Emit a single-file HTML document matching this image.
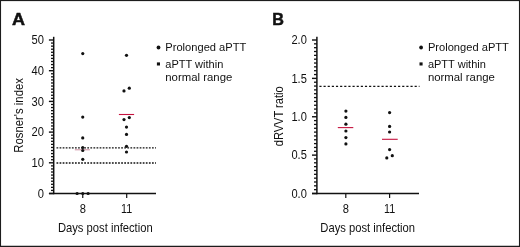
<!DOCTYPE html>
<html>
<head>
<meta charset="utf-8">
<title>Figure</title>
<style>
html, body { margin: 0; padding: 0; background: #fff; }
body { width: 520px; height: 247px; overflow: hidden; position: relative; font-family: "Liberation Sans", sans-serif; }
svg { position: absolute; left: 0; top: 0; display: block; will-change: transform; }
svg text { font-family: "Liberation Sans", sans-serif; }
</style>
</head>
<body>
<svg width="520" height="247" viewBox="0 0 520 247">
<rect x="0" y="0" width="520" height="247" fill="#fff"/>
<g fill="#1c1c1c"><rect x="0" y="0" width="520" height="1.1"/><rect x="0" y="245.75" width="520" height="1.25"/><rect x="0" y="0" width="1.05" height="247"/><rect x="518.95" y="0" width="1.05" height="247"/></g>
<g stroke="#111" fill="none">
<line x1="53.7" y1="36.8" x2="53.7" y2="194.2" stroke-width="1.5"/>
<line x1="49" y1="193.5" x2="156" y2="193.5" stroke-width="1.4"/>
<line x1="48.9" y1="193.5" x2="53.7" y2="193.5" stroke-width="1.4"/>
<line x1="51.0" y1="190.43" x2="53.7" y2="190.43" stroke-width="1.3"/>
<line x1="51.0" y1="187.36" x2="53.7" y2="187.36" stroke-width="1.3"/>
<line x1="51.0" y1="184.29" x2="53.7" y2="184.29" stroke-width="1.3"/>
<line x1="51.0" y1="181.22" x2="53.7" y2="181.22" stroke-width="1.3"/>
<line x1="51.0" y1="178.15" x2="53.7" y2="178.15" stroke-width="1.3"/>
<line x1="51.0" y1="175.08" x2="53.7" y2="175.08" stroke-width="1.3"/>
<line x1="51.0" y1="172.01" x2="53.7" y2="172.01" stroke-width="1.3"/>
<line x1="51.0" y1="168.94" x2="53.7" y2="168.94" stroke-width="1.3"/>
<line x1="51.0" y1="165.87" x2="53.7" y2="165.87" stroke-width="1.3"/>
<line x1="48.9" y1="162.8" x2="53.7" y2="162.8" stroke-width="1.4"/>
<line x1="51.0" y1="159.73" x2="53.7" y2="159.73" stroke-width="1.3"/>
<line x1="51.0" y1="156.66" x2="53.7" y2="156.66" stroke-width="1.3"/>
<line x1="51.0" y1="153.59" x2="53.7" y2="153.59" stroke-width="1.3"/>
<line x1="51.0" y1="150.52" x2="53.7" y2="150.52" stroke-width="1.3"/>
<line x1="51.0" y1="147.45" x2="53.7" y2="147.45" stroke-width="1.3"/>
<line x1="51.0" y1="144.38" x2="53.7" y2="144.38" stroke-width="1.3"/>
<line x1="51.0" y1="141.31" x2="53.7" y2="141.31" stroke-width="1.3"/>
<line x1="51.0" y1="138.24" x2="53.7" y2="138.24" stroke-width="1.3"/>
<line x1="51.0" y1="135.17" x2="53.7" y2="135.17" stroke-width="1.3"/>
<line x1="48.9" y1="132.1" x2="53.7" y2="132.1" stroke-width="1.4"/>
<line x1="51.0" y1="129.03" x2="53.7" y2="129.03" stroke-width="1.3"/>
<line x1="51.0" y1="125.96" x2="53.7" y2="125.96" stroke-width="1.3"/>
<line x1="51.0" y1="122.89" x2="53.7" y2="122.89" stroke-width="1.3"/>
<line x1="51.0" y1="119.82" x2="53.7" y2="119.82" stroke-width="1.3"/>
<line x1="51.0" y1="116.75" x2="53.7" y2="116.75" stroke-width="1.3"/>
<line x1="51.0" y1="113.68" x2="53.7" y2="113.68" stroke-width="1.3"/>
<line x1="51.0" y1="110.61" x2="53.7" y2="110.61" stroke-width="1.3"/>
<line x1="51.0" y1="107.54" x2="53.7" y2="107.54" stroke-width="1.3"/>
<line x1="51.0" y1="104.47" x2="53.7" y2="104.47" stroke-width="1.3"/>
<line x1="48.9" y1="101.4" x2="53.7" y2="101.4" stroke-width="1.4"/>
<line x1="51.0" y1="98.33" x2="53.7" y2="98.33" stroke-width="1.3"/>
<line x1="51.0" y1="95.26" x2="53.7" y2="95.26" stroke-width="1.3"/>
<line x1="51.0" y1="92.19" x2="53.7" y2="92.19" stroke-width="1.3"/>
<line x1="51.0" y1="89.12" x2="53.7" y2="89.12" stroke-width="1.3"/>
<line x1="51.0" y1="86.05" x2="53.7" y2="86.05" stroke-width="1.3"/>
<line x1="51.0" y1="82.98" x2="53.7" y2="82.98" stroke-width="1.3"/>
<line x1="51.0" y1="79.91" x2="53.7" y2="79.91" stroke-width="1.3"/>
<line x1="51.0" y1="76.84" x2="53.7" y2="76.84" stroke-width="1.3"/>
<line x1="51.0" y1="73.77" x2="53.7" y2="73.77" stroke-width="1.3"/>
<line x1="48.9" y1="70.7" x2="53.7" y2="70.7" stroke-width="1.4"/>
<line x1="51.0" y1="67.63" x2="53.7" y2="67.63" stroke-width="1.3"/>
<line x1="51.0" y1="64.56" x2="53.7" y2="64.56" stroke-width="1.3"/>
<line x1="51.0" y1="61.49" x2="53.7" y2="61.49" stroke-width="1.3"/>
<line x1="51.0" y1="58.42" x2="53.7" y2="58.42" stroke-width="1.3"/>
<line x1="51.0" y1="55.35" x2="53.7" y2="55.35" stroke-width="1.3"/>
<line x1="51.0" y1="52.28" x2="53.7" y2="52.28" stroke-width="1.3"/>
<line x1="51.0" y1="49.21" x2="53.7" y2="49.21" stroke-width="1.3"/>
<line x1="51.0" y1="46.14" x2="53.7" y2="46.14" stroke-width="1.3"/>
<line x1="51.0" y1="43.07" x2="53.7" y2="43.07" stroke-width="1.3"/>
<line x1="48.9" y1="40.0" x2="53.7" y2="40.0" stroke-width="1.4"/>
<line x1="82.75" y1="193.5" x2="82.75" y2="198" stroke-width="1.2"/>
<line x1="126.7" y1="193.5" x2="126.7" y2="198" stroke-width="1.2"/>
<line x1="56.5" y1="147.8" x2="156" y2="147.8" stroke-width="1.3" stroke-dasharray="1.75 1.33"/>
<line x1="56.5" y1="163" x2="156" y2="163" stroke-width="1.3" stroke-dasharray="1.75 1.33"/>
</g>
<line x1="74.8" y1="149.8" x2="89.9" y2="149.8" stroke="#a8405f" stroke-width="1" opacity="0.6"/>
<line x1="118.9" y1="114.5" x2="134.1" y2="114.5" stroke="#c6123e" stroke-width="1.1"/>
<g fill="#111"><circle cx="82.75" cy="53.6" r="1.6"/>
<circle cx="82.75" cy="117.1" r="1.6"/>
<circle cx="82.75" cy="137.9" r="1.6"/>
<circle cx="82.75" cy="147.5" r="1.6"/>
<circle cx="82.75" cy="150.5" r="1.6"/>
<circle cx="82.75" cy="159.3" r="1.6"/>
<circle cx="77.1" cy="193.5" r="1.6"/>
<circle cx="82.75" cy="193.5" r="1.6"/>
<circle cx="88.1" cy="193.5" r="1.6"/>
<circle cx="126.5" cy="55.3" r="1.6"/>
<circle cx="129.3" cy="88.2" r="1.6"/>
<circle cx="124" cy="90.9" r="1.6"/>
<circle cx="129.3" cy="117.6" r="1.6"/>
<circle cx="124" cy="119.6" r="1.6"/>
<circle cx="126.5" cy="127.1" r="1.6"/>
<circle cx="126.5" cy="134.4" r="1.6"/>
<circle cx="126.5" cy="146.3" r="1.6"/>
<circle cx="126.5" cy="152" r="1.6"/></g>
<g fill="#111">
<text x="43.9" y="197.8" font-size="12.1" text-anchor="end" font-weight="normal" textLength="6.2" lengthAdjust="spacingAndGlyphs">0</text>
<text x="43.9" y="167.1" font-size="12.1" text-anchor="end" font-weight="normal" textLength="12.4" lengthAdjust="spacingAndGlyphs">10</text>
<text x="43.9" y="136.4" font-size="12.1" text-anchor="end" font-weight="normal" textLength="12.4" lengthAdjust="spacingAndGlyphs">20</text>
<text x="43.9" y="105.7" font-size="12.1" text-anchor="end" font-weight="normal" textLength="12.4" lengthAdjust="spacingAndGlyphs">30</text>
<text x="43.9" y="75.0" font-size="12.1" text-anchor="end" font-weight="normal" textLength="12.4" lengthAdjust="spacingAndGlyphs">40</text>
<text x="43.9" y="44.3" font-size="12.1" text-anchor="end" font-weight="normal" textLength="12.4" lengthAdjust="spacingAndGlyphs">50</text>
<text x="82.8" y="212.7" font-size="12.1" text-anchor="middle" font-weight="normal" textLength="6.2" lengthAdjust="spacingAndGlyphs">8</text>
<text x="126.7" y="212.7" font-size="12.1" text-anchor="middle" font-weight="normal" textLength="11.2" lengthAdjust="spacingAndGlyphs">11</text>
<text x="57.9" y="232.0" font-size="13.6" text-anchor="start" font-weight="normal" textLength="94.8" lengthAdjust="spacingAndGlyphs">Days post infection</text>
<text transform="translate(23.3 152.7) rotate(-90)" font-size="12.6" textLength="74.6" lengthAdjust="spacingAndGlyphs">Rosner's index</text>
<text x="12.0" y="24.55" font-size="17" text-anchor="start" font-weight="bold" textLength="13" lengthAdjust="spacingAndGlyphs" stroke="#111" stroke-width="0.5">A</text>
<circle cx="158.5" cy="47.5" r="1.9"/>
<rect x="156.9" y="62.4" width="3.1" height="3.1"/>
<text x="165.3" y="50.6" font-size="11.2" text-anchor="start" font-weight="normal" textLength="81" lengthAdjust="spacingAndGlyphs">Prolonged aPTT</text>
<text x="165.3" y="67.5" font-size="11.2" text-anchor="start" font-weight="normal" textLength="58" lengthAdjust="spacingAndGlyphs">aPTT within</text>
<text x="165.3" y="80.8" font-size="11.2" text-anchor="start" font-weight="normal" textLength="67" lengthAdjust="spacingAndGlyphs">normal range</text>
</g>
<g stroke="#111" fill="none">
<line x1="316.9" y1="36.8" x2="316.9" y2="194.2" stroke-width="1.5"/>
<line x1="312" y1="193.5" x2="419" y2="193.5" stroke-width="1.4"/>
<line x1="312.0" y1="193.5" x2="316.9" y2="193.5" stroke-width="1.4"/>
<line x1="314.0" y1="189.66" x2="316.9" y2="189.66" stroke-width="1.3"/>
<line x1="314.0" y1="185.82" x2="316.9" y2="185.82" stroke-width="1.3"/>
<line x1="314.0" y1="181.99" x2="316.9" y2="181.99" stroke-width="1.3"/>
<line x1="314.0" y1="178.15" x2="316.9" y2="178.15" stroke-width="1.3"/>
<line x1="314.0" y1="174.31" x2="316.9" y2="174.31" stroke-width="1.3"/>
<line x1="314.0" y1="170.47" x2="316.9" y2="170.47" stroke-width="1.3"/>
<line x1="314.0" y1="166.64" x2="316.9" y2="166.64" stroke-width="1.3"/>
<line x1="314.0" y1="162.8" x2="316.9" y2="162.8" stroke-width="1.3"/>
<line x1="314.0" y1="158.96" x2="316.9" y2="158.96" stroke-width="1.3"/>
<line x1="312.0" y1="155.12" x2="316.9" y2="155.12" stroke-width="1.4"/>
<line x1="314.0" y1="151.29" x2="316.9" y2="151.29" stroke-width="1.3"/>
<line x1="314.0" y1="147.45" x2="316.9" y2="147.45" stroke-width="1.3"/>
<line x1="314.0" y1="143.61" x2="316.9" y2="143.61" stroke-width="1.3"/>
<line x1="314.0" y1="139.78" x2="316.9" y2="139.78" stroke-width="1.3"/>
<line x1="314.0" y1="135.94" x2="316.9" y2="135.94" stroke-width="1.3"/>
<line x1="314.0" y1="132.1" x2="316.9" y2="132.1" stroke-width="1.3"/>
<line x1="314.0" y1="128.26" x2="316.9" y2="128.26" stroke-width="1.3"/>
<line x1="314.0" y1="124.42" x2="316.9" y2="124.42" stroke-width="1.3"/>
<line x1="314.0" y1="120.59" x2="316.9" y2="120.59" stroke-width="1.3"/>
<line x1="312.0" y1="116.75" x2="316.9" y2="116.75" stroke-width="1.4"/>
<line x1="314.0" y1="112.91" x2="316.9" y2="112.91" stroke-width="1.3"/>
<line x1="314.0" y1="109.08" x2="316.9" y2="109.08" stroke-width="1.3"/>
<line x1="314.0" y1="105.24" x2="316.9" y2="105.24" stroke-width="1.3"/>
<line x1="314.0" y1="101.4" x2="316.9" y2="101.4" stroke-width="1.3"/>
<line x1="314.0" y1="97.56" x2="316.9" y2="97.56" stroke-width="1.3"/>
<line x1="314.0" y1="93.73" x2="316.9" y2="93.73" stroke-width="1.3"/>
<line x1="314.0" y1="89.89" x2="316.9" y2="89.89" stroke-width="1.3"/>
<line x1="314.0" y1="86.05" x2="316.9" y2="86.05" stroke-width="1.3"/>
<line x1="314.0" y1="82.21" x2="316.9" y2="82.21" stroke-width="1.3"/>
<line x1="312.0" y1="78.38" x2="316.9" y2="78.38" stroke-width="1.4"/>
<line x1="314.0" y1="74.54" x2="316.9" y2="74.54" stroke-width="1.3"/>
<line x1="314.0" y1="70.7" x2="316.9" y2="70.7" stroke-width="1.3"/>
<line x1="314.0" y1="66.86" x2="316.9" y2="66.86" stroke-width="1.3"/>
<line x1="314.0" y1="63.03" x2="316.9" y2="63.03" stroke-width="1.3"/>
<line x1="314.0" y1="59.19" x2="316.9" y2="59.19" stroke-width="1.3"/>
<line x1="314.0" y1="55.35" x2="316.9" y2="55.35" stroke-width="1.3"/>
<line x1="314.0" y1="51.51" x2="316.9" y2="51.51" stroke-width="1.3"/>
<line x1="314.0" y1="47.68" x2="316.9" y2="47.68" stroke-width="1.3"/>
<line x1="314.0" y1="43.84" x2="316.9" y2="43.84" stroke-width="1.3"/>
<line x1="312.0" y1="40.0" x2="316.9" y2="40.0" stroke-width="1.4"/>
<line x1="345.8" y1="193.5" x2="345.8" y2="198" stroke-width="1.2"/>
<line x1="389.6" y1="193.5" x2="389.6" y2="198" stroke-width="1.2"/>
<line x1="319.4" y1="86.4" x2="419.5" y2="86.4" stroke-width="1.3" stroke-dasharray="2.15 1.99"/>
</g>
<line x1="337.8" y1="127.6" x2="353.3" y2="127.6" stroke="#c6123e" stroke-width="1.1"/>
<line x1="382" y1="139.3" x2="397.7" y2="139.3" stroke="#c6123e" stroke-width="1.1"/>
<g fill="#111"><circle cx="345.9" cy="111.1" r="1.6"/>
<circle cx="345.9" cy="117.4" r="1.6"/>
<circle cx="345.9" cy="124.2" r="1.6"/>
<circle cx="345.9" cy="131" r="1.6"/>
<circle cx="345.9" cy="137.6" r="1.6"/>
<circle cx="345.9" cy="143.9" r="1.6"/>
<circle cx="389.6" cy="112.6" r="1.6"/>
<circle cx="389.6" cy="126.4" r="1.6"/>
<circle cx="389.6" cy="132" r="1.6"/>
<circle cx="389.6" cy="149.6" r="1.6"/>
<circle cx="392.3" cy="155.7" r="1.6"/>
<circle cx="386.8" cy="157.9" r="1.6"/></g>
<g fill="#111">
<text x="306.8" y="197.8" font-size="12.1" text-anchor="end" font-weight="normal" textLength="15.4" lengthAdjust="spacingAndGlyphs">0.0</text>
<text x="306.8" y="159.43" font-size="12.1" text-anchor="end" font-weight="normal" textLength="15.4" lengthAdjust="spacingAndGlyphs">0.5</text>
<text x="306.8" y="121.05" font-size="12.1" text-anchor="end" font-weight="normal" textLength="15.4" lengthAdjust="spacingAndGlyphs">1.0</text>
<text x="306.8" y="82.67" font-size="12.1" text-anchor="end" font-weight="normal" textLength="15.4" lengthAdjust="spacingAndGlyphs">1.5</text>
<text x="306.8" y="44.3" font-size="12.1" text-anchor="end" font-weight="normal" textLength="15.4" lengthAdjust="spacingAndGlyphs">2.0</text>
<text x="345.8" y="212.7" font-size="12.1" text-anchor="middle" font-weight="normal" textLength="6.2" lengthAdjust="spacingAndGlyphs">8</text>
<text x="389.7" y="212.7" font-size="12.1" text-anchor="middle" font-weight="normal" textLength="11.2" lengthAdjust="spacingAndGlyphs">11</text>
<text x="320.3" y="232.0" font-size="13.6" text-anchor="start" font-weight="normal" textLength="94.8" lengthAdjust="spacingAndGlyphs">Days post infection</text>
<text transform="translate(283.3 146.2) rotate(-90)" font-size="12.6" textLength="59.8" lengthAdjust="spacingAndGlyphs">dRVVT ratio</text>
<text x="272.15" y="24.55" font-size="17" text-anchor="start" font-weight="bold" textLength="11.7" lengthAdjust="spacingAndGlyphs" stroke="#111" stroke-width="0.5">B</text>
<circle cx="421.1" cy="47.5" r="1.9"/>
<rect x="419.5" y="62.4" width="3.1" height="3.1"/>
<text x="427.9" y="50.6" font-size="11.2" text-anchor="start" font-weight="normal" textLength="81" lengthAdjust="spacingAndGlyphs">Prolonged aPTT</text>
<text x="427.9" y="67.5" font-size="11.2" text-anchor="start" font-weight="normal" textLength="58" lengthAdjust="spacingAndGlyphs">aPTT within</text>
<text x="427.9" y="80.8" font-size="11.2" text-anchor="start" font-weight="normal" textLength="67" lengthAdjust="spacingAndGlyphs">normal range</text>
</g>
</svg>
</body>
</html>
